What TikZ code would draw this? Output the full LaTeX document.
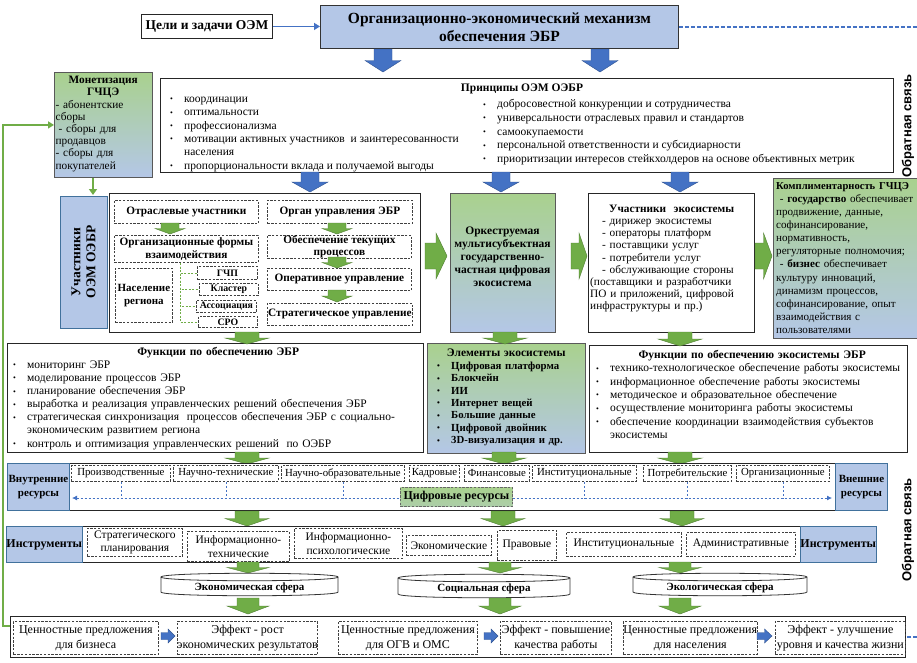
\documentclass[tikz,border=0pt]{standalone}
\usepackage{fontspec}
\setmainfont{Liberation Serif}
\newfontfamily\fbsans{Liberation Sans}
\usetikzlibrary{arrows.meta}
\definecolor{lblue}{HTML}{B4C7E7}
\definecolor{lgreen}{HTML}{A9D18E}
\definecolor{agreen}{HTML}{70AD47}
\definecolor{agreenD}{HTML}{507E32}
\definecolor{dblue}{HTML}{4472C4}
\definecolor{dblueD}{HTML}{2F528F}
\definecolor{bbord}{HTML}{41719C}
\newcommand\FS[2]{\fontsize{#1}{#2}\selectfont}
\newcommand\bul{\makebox[14pt][l]{\FS{8}{8}\raisebox{0.6pt}{\textbullet}}}
\newcommand\BlkDown[6]{\filldraw[#6] ({#1-#5},#2) -- ({#1+#5},#2) -- ({#1+#5},{#2+(#3-#2)*0.5}) -- ({#1+#4},{#2+(#3-#2)*0.5}) -- (#1,#3) -- ({#1-#4},{#2+(#3-#2)*0.5}) -- ({#1-#5},{#2+(#3-#2)*0.5}) -- cycle;}
\newcommand\BlkRight[6]{\filldraw[#6] (#1,{#3-#5}) -- ({(#1+#2)/2},{#3-#5}) -- ({(#1+#2)/2},{#3-#4}) -- (#2,#3) -- ({(#1+#2)/2},{#3+#4}) -- ({(#1+#2)/2},{#3+#5}) -- (#1,{#3+#5}) -- cycle;}
\newcommand\Sphere[6]{%
 \filldraw[sphst] (#1,#3) -- (#1,#4) .. controls (#1,{#4+5}) and (#2,{#4+5}) .. (#2,#4) -- (#2,#3) .. controls (#2,{#3-5}) and (#1,{#3-5}) .. (#1,#3) -- cycle;
 \draw[sphst] (#1,#3) .. controls (#1,{#3+5}) and (#2,{#3+5}) .. (#2,#3);
 \node[font=\bfseries\FS{11}{12}] (#5) at ({(#1+#2)/2},{(#3+#4)/2+3}) {#6};}
\tikzset{
 nw/.style={anchor=north west},
 sz/.style 2 args={minimum width=#1, minimum height=#2},
 sbox/.style={draw=black!85, line width=0.9pt, fill=white, inner sep=0pt},
 dbox/.style={draw=black!75, line width=0.8pt, dash pattern=on 2.4pt off 1.4pt, fill=white, align=center, inner sep=0pt},
 bbox/.style={draw=bbord, line width=0.9pt, fill=lblue, align=center, inner sep=0pt},
 gbox/.style={draw=black!65, line width=0.9pt, top color=lgreen, bottom color=lblue, inner sep=0pt},
 garr/.style={fill=agreen, draw=agreenD, line width=0.4pt},
 barr/.style={fill=dblue, draw=dblueD, line width=0.4pt},
 sphst/.style={draw=black!80, line width=0.8pt, fill=white},
 gdash/.style={draw=agreen, line width=0.8pt, dash pattern=on 2pt off 1.5pt},
 bdash/.style={draw=dblue, line width=0.8pt, dash pattern=on 2.5pt off 1.5pt},
 txt/.style={inner sep=0pt, align=left},
}
\begin{document}
\begin{tikzpicture}[x=1pt,y=-1pt]
\useasboundingbox (0,0) rectangle (917,662);
\fill[white] (0,0) rectangle (917,662);

% ---------- top ----------
\node[sbox, nw, sz={131}{24}, font=\bfseries\FS{13.5}{15}] (goal) at (141,14) {Цели и задачи ОЭМ};
\node[bbox, nw, sz={358}{43}, draw=black!80, font=\bfseries\FS{15.5}{18}] (main) at (320,5) {Организационно-экономический механизм\\обеспечения ЭБР};
\draw[-{Triangle[length=6pt,width=7pt]}, dblue, line width=1.6pt] (goal.east) -- (goal.east -| main.west);
\BlkDown{383}{49}{72}{18}{9}{barr}
\BlkDown{600}{49}{72}{18}{9}{barr}

% ---------- principles ----------
\node[sbox, nw, sz={733}{94}] (princ) at (160,78) {};
\node[font=\bfseries\FS{11.5}{13}] (princT) at (522,89) {Принципы ОЭМ ОЭБР};
\node[txt, nw, font=\FS{11.5}{13.3}] (plistL) at (170,93) {\strut\bul координации\\\bul оптимальности\\\bul профессионализма\\\bul мотивации активных участников\ \ и заинтересованности\\\hspace*{14pt}населения\\\bul пропорциональности вклада и получаемой выгоды};
\node[txt, nw, font=\FS{11.5}{13.7}] (plistR) at (483,98) {\strut\bul добросовестной конкуренции и сотрудничества\\\bul универсальности отраслевых правил и стандартов\\\bul самоокупаемости\\\bul персональной ответственности и субсидиарности\\\bul приоритизации интересов стейкхолдеров на основе объективных метрик};
\BlkDown{310}{172}{192}{18}{9}{barr}
\BlkDown{501}{172}{192}{18}{9}{barr}
\BlkDown{680}{172}{192}{18}{9}{barr}

% ---------- feedback labels ----------
\node[rotate=90, font=\fbsans\bfseries\FS{13}{13}] (fb1) at (908,126) {Обратная связь};
\node[rotate=90, font=\fbsans\bfseries\FS{13}{13}] (fb2) at (908,530) {Обратная связь};

% ---------- monetization ----------
\node[gbox, nw, sz={98}{105}] (mon) at (54,72) {};
\node[txt, nw, text width=95pt, font=\FS{11.3}{12.2}] (monT) at (55.5,75) {{\centering\bfseries\strut Монетизация\\ГЧЦЭ\par}- абонентские\\сборы\\\hspace*{3pt}- сборы для\\продавцов\\- сборы для\\покупателей};
\coordinate (marr) at (93,0);
\draw[-{Triangle[length=6pt,width=8pt]}, agreen, line width=2pt] (marr |- mon.south) -- (marr |- 0,195);

% ---------- participants OEM ----------
\node[bbox, sz={47}{132}] (uch) at (83.5,262) {};
\node[rotate=90, align=center, font=\bfseries\FS{13.5}{15}] (uchT) at (uch.center) {Участники\\ОЭМ ОЭБР};
\node[sbox, nw, sz={311}{139}] (big) at (109,193) {};
\node[dbox, nw, sz={144}{23}, font=\bfseries\FS{11.3}{12}] (otr) at (114,200) {Отраслевые участники};
\node[dbox, nw, sz={144}{27}, font=\bfseries\FS{11.3}{12.5}] (orgf) at (114,235) {Организационные формы\\взаимодействия};
\node[dbox, nw, sz={57}{54}, font=\bfseries\FS{11}{13}] (nas) at (115,268) {Население\\региона};
\node[dbox, nw, sz={60}{13}, font=\bfseries\FS{9.8}{10}] (gchp) at (197,266) {ГЧП};
\node[dbox, nw, sz={59}{12}, font=\bfseries\FS{9.8}{10}] (klas) at (199,283) {Кластер};
\node[dbox, nw, sz={60}{12}, font=\bfseries\FS{9.8}{10}] (asso) at (196,300) {Ассоциация};
\node[dbox, nw, sz={59}{11}, font=\bfseries\FS{9.8}{10}] (sro) at (198,316) {СРО};
\node[dbox, nw, sz={145}{23}, font=\bfseries\FS{11.3}{12}] (organ) at (267,200) {Орган управления ЭБР};
\node[dbox, nw, sz={144}{23}, font=\bfseries\FS{11.3}{11.5}] (obes) at (267,235) {Обеспечение текущих\\процессов};
\node[dbox, nw, sz={144}{22}, font=\bfseries\FS{11.3}{12}] (oper) at (267,268) {Оперативное управление};
\node[dbox, nw, sz={145}{22}, font=\bfseries\FS{11.3}{12}] (strat) at (267,303) {Стратегическое управление};
\BlkDown{170}{223}{234}{15}{9}{garr}
\BlkDown{337}{223}{234}{15}{9}{garr}
\BlkDown{337}{257}{268}{15}{9}{garr}
\BlkDown{337}{290}{302}{15}{9}{garr}
\coordinate (gv) at (180,263);
\draw[gdash] (gv) |- (gchp.west);
\draw[gdash] (gv) |- (klas.west);
\draw[gdash] (gv) |- (asso.west);
\draw[gdash] (gv) |- (sro.west);

% ---------- ecosystem ----------
\node[gbox, nw, sz={105}{139}] (eco) at (450,193) {};
\node[align=center, inner sep=0pt, font=\bfseries\FS{11.5}{13}] (ecoT) at (502.5,257) {Оркеструемая\\мультисубъектная\\государственно-\\частная цифровая\\экосистема};
\node[sbox, nw, sz={166}{139}] (part) at (588,193) {};
\node[txt, nw, text width=163pt, font=\FS{11.3}{12.1}] (partT) at (590,204) {{\centering\bfseries\strut Участники\ \ экосистемы\par}\hspace*{12pt}- дирижер экосистемы\\\hspace*{12pt}- операторы платформ\\\hspace*{12pt}- поставщики услуг\\\hspace*{12pt}- потребители услуг\\\hspace*{12pt}- обслуживающие стороны\\(поставщики и разработчики\\ПО и приложений, цифровой\\инфраструктуры и пр.)};
\node[gbox, nw, sz={146}{160}] (comp) at (773,178) {};
\node[txt, nw, text width=150pt, font=\FS{11.1}{13.1}] (compT) at (776,180) {\strut{\bfseries\FS{10.6}{13.1}Комплиментарность ГЧЦЭ}\\\ - \textbf{государство} обеспечивает\\продвижение, данные,\\софинансирование,\\нормативность,\\регуляторные полномочия;\\\ - \textbf{бизнес} обеспечивает\\культуру инноваций,\\динамизм процессов,\\софинансирование, опыт\\взаимодействия с\\пользователями};
\BlkRight{425}{447}{256}{23}{13}{garr}
\BlkRight{571}{587}{256}{23}{13}{garr}
\BlkRight{755}{772}{256}{23}{13}{garr}

% ---------- functions row ----------
\node[sbox, nw, sz={416}{109}] (funL) at (7,343) {};
\node[txt, nw, text width=410pt, font=\FS{11.5}{13.1}] (funLT) at (13,346) {{\centering\bfseries\strut Функции по обеспечению ЭБР\par}\bul мониторинг ЭБР\\\bul моделирование процессов ЭБР\\\bul планирование обеспечения ЭБР\\\bul выработка и реализация управленческих решений обеспечения ЭБР\\\bul\makebox[387pt][s]{стратегическая синхронизация\ \ процессов обеспечения ЭБР с социально-}\\\hspace*{14pt}экономическим развитием региона\\\bul контроль и оптимизация управленческих решений\ \ по ОЭБР};
\node[gbox, nw, sz={158}{110}] (elem) at (427,343) {};
\node[txt, nw, text width=154pt, font=\bfseries\FS{10.8}{12.4}] (elemT) at (429,348) {{\centering\FS{11.5}{12.4}\strut Элементы экосистемы\par}\hspace*{8pt}\bul Цифровая платформа\\\hspace*{8pt}\bul Блокчейн\\\hspace*{8pt}\bul ИИ\\\hspace*{8pt}\bul Интернет вещей\\\hspace*{8pt}\bul Большие данные\\\hspace*{8pt}\bul Цифровой двойник\\\hspace*{8pt}\bul 3D-визуализация и др.};
\node[sbox, nw, sz={318}{107}] (funR) at (589,345) {};
\node[txt, nw, text width=312pt, font=\FS{11.5}{13.3}] (funRT) at (596,349) {{\centering\bfseries\strut Функции по обеспечению экосистемы ЭБР\par}\bul технико-технологическое обеспечение работы экосистемы\\\bul информационное обеспечение работы экосистемы\\\bul методическое и образовательное обеспечение\\\bul осуществление мониторинга работы экосистемы\\\bul обеспечение координации взаимодействия субъектов\\\hspace*{14pt}экосистемы};
\BlkDown{247}{332}{344}{22}{12}{garr}
\BlkDown{505}{332}{344}{22}{12}{garr}
\BlkDown{680}{332}{346}{22}{12}{garr}
\BlkDown{247}{452}{464}{22}{12}{garr}
\BlkDown{504}{452}{464}{22}{12}{garr}
\BlkDown{680}{452}{464}{22}{12}{garr}

% ---------- resources ----------
\node[sbox, nw, sz={766}{47}] (resbox) at (69,463) {};
\node[bbox, nw, sz={62}{47}, font=\bfseries\FS{11}{14}] (vres) at (7,463) {Внутренние\\ресурсы};
\node[bbox, nw, sz={52}{47}, font=\bfseries\FS{11}{14}] (eres) at (835,463) {Внешние\\ресурсы};
\begin{scope}[every node/.append style={dbox, nw, minimum height=16, font=\FS{10.8}{12}}]
\node[minimum width=99] (r1) at (71,465) {Производственные};
\node[minimum width=105] (r2) at (173,465) {Научно-технические};
\node[minimum width=123] (r3) at (281,465) {Научно-образовательные};
\node[minimum width=50] (r4) at (409,465) {Кадровые};
\node[minimum width=65] (r5) at (464,465) {Финансовые};
\node[minimum width=104] (r6) at (532,465) {Институциональные};
\node[minimum width=88] (r7) at (643,465) {Потребительские};
\node[minimum width=93] (r8) at (736,465) {Организационные};
\end{scope}
\coordinate (hl) at (72,498);
\coordinate (hr) at (832,498);
\draw[bdash, {Latex[length=5pt,width=5pt]}-{Latex[length=5pt,width=5pt]}] (hl) -- (hr);
\foreach \r in {r1,r2,r3,r6,r7,r8} {\draw[bdash] (\r.south) -- (\r.south |- hl);}
\node[nw, sz={112}{19}, draw=black!60, line width=0.8pt, dash pattern=on 2.4pt off 1.4pt, top color=lgreen, bottom color=lgreen!70!lblue, inner sep=0pt, font=\bfseries\FS{12}{13}] (digi) at (400,487) {Цифровые ресурсы};
\BlkDown{247}{511}{526}{22}{12}{garr}
\BlkDown{503}{511}{526}{22}{12}{garr}
\BlkDown{682}{511}{526}{22}{12}{garr}

% ---------- instruments ----------
\node[sbox, nw, sz={719}{36}] (insbox) at (81,526) {};
\node[bbox, nw, sz={75}{36}, font=\bfseries\FS{12}{13}] (ileft) at (6,526) {Инструменты};
\node[bbox, nw, sz={71}{36}, font=\bfseries\FS{12}{13}] (iright) at (800,526) {Инструменты};
\begin{scope}[every node/.append style={dbox, nw, font=\FS{11.5}{13.5}}]
\node[sz={95}{28}] (i1) at (87,528) {Стратегического\\планирования};
\node[sz={102}{30}] (i2) at (187,531) {Информационно-\\технические};
\node[sz={108}{30}] (i3) at (294,528) {Информационно-\\психологические};
\node[sz={85}{20}] (i4) at (406,535) {Экономические};
\node[sz={59}{30}] (i5) at (497,530) {Правовые};
\node[sz={115}{24}] (i6) at (566,532) {Институциональные};
\node[sz={109}{24}] (i7) at (686,532) {Административные};
\end{scope}
\BlkDown{248}{562}{573}{21}{11}{garr}
\BlkDown{500}{562}{573}{21}{11}{garr}
\BlkDown{680}{562}{573}{21}{11}{garr}

% ---------- spheres ----------
\Sphere{161}{338}{577}{592}{s1}{Экономическая сфера}
\Sphere{398}{570}{578}{594}{s2}{Социальная сфера}
\Sphere{633}{807}{577}{592}{s3}{Экологическая сфера}
\BlkDown{248}{598}{614}{21}{11}{garr}
\BlkDown{500}{598}{614}{21}{11}{garr}
\BlkDown{680}{598}{614}{21}{11}{garr}

% ---------- bottom ----------
\node[sbox, nw, sz={895}{41}] (brow) at (10,616) {};
\begin{scope}[every node/.append style={dbox, nw, minimum height=33, font=\FS{12}{15}}]
\node[minimum width=145] (b1) at (13,621) {Ценностные предложения\\для бизнеса};
\node[minimum width=138] (b2) at (177,621) {Эффект - рост\\экономических результатов};
\node[minimum width=139] (b3) at (338,621) {Ценностные предложения\\для ОГВ и ОМС};
\node[minimum width=111] (b4) at (500,621) {Эффект - повышение\\качества работы};
\node[minimum width=131] (b5) at (623,621) {Ценностные предложения\\для населения};
\node[minimum width=130] (b6) at (775,621) {Эффект - улучшение\\уровня и качества жизни};
\end{scope}
\BlkRight{161}{175}{636}{7}{3.5}{barr}
\BlkRight{484}{498}{636}{7}{3.5}{barr}
\BlkRight{757}{772}{636}{7}{3.5}{barr}

% ---------- feedback lines ----------
\coordinate (gx) at (3,0);
\coordinate (gst) at (10,626);
\draw[agreen, line width=1.5pt, -{Triangle[length=6pt,width=7pt]}] (gst) -- (gst -| gx) -- (gx |- mon.west) -- (mon.west);
\coordinate (fbT) at (919,0);
\draw[dblue, line width=1.6pt, dash pattern=on 4pt off 2pt] (main.east) -- (main.east -| fbT) -- (fbT |- brow.east) -- (brow.east);
\end{tikzpicture}
\end{document}
